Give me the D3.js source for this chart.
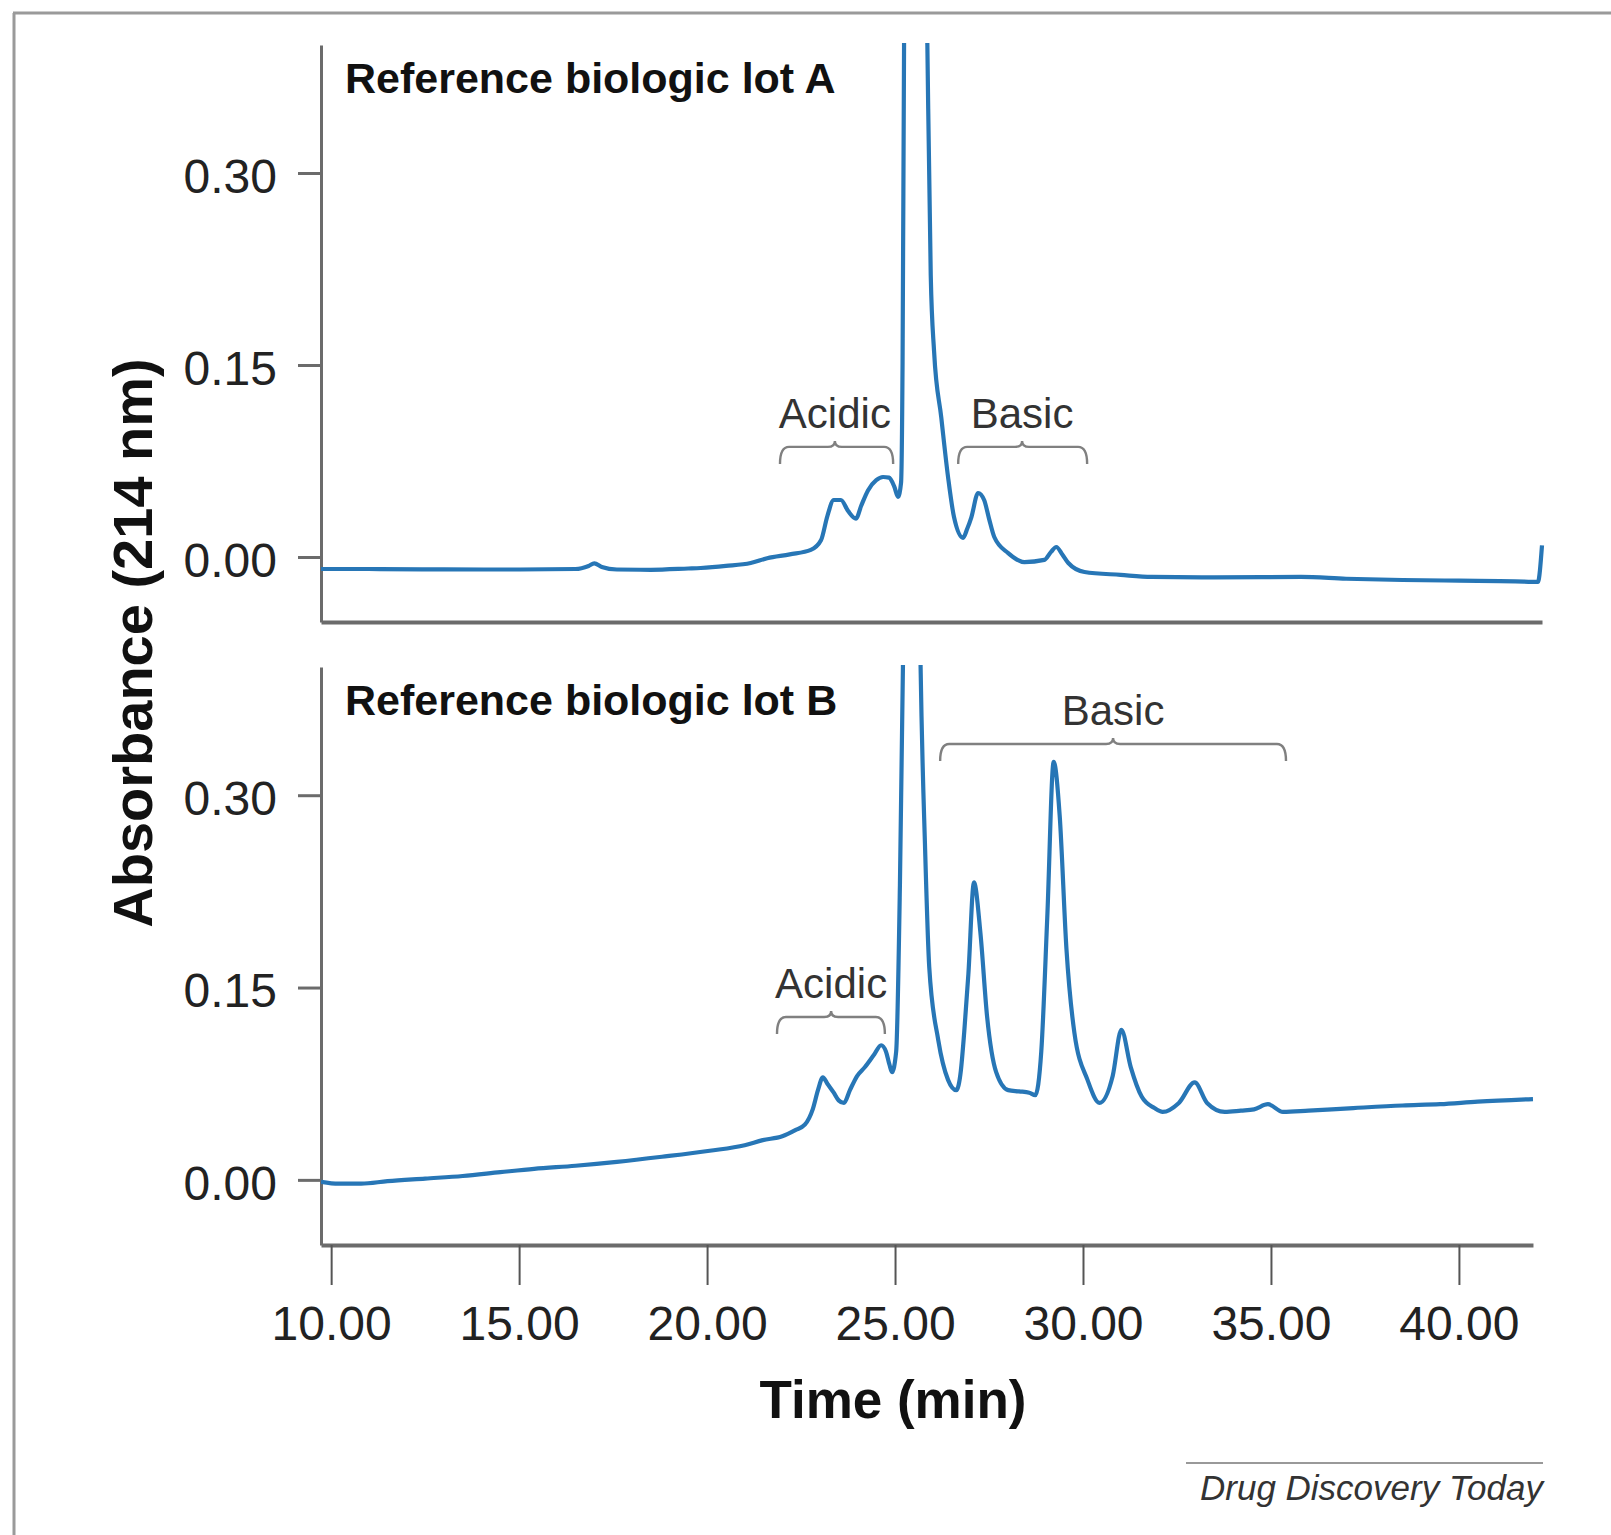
<!DOCTYPE html>
<html>
<head>
<meta charset="utf-8">
<script src="https://cdn.jsdelivr.net/npm/d3@7"></script>
<style>
  body { margin: 0; background: #fff; }
  svg { display: block; font-family: "Liberation Sans", Arial, Helvetica, sans-serif; }
</style>
</head>
<body>
<svg id="chart" width="1611" height="1535"></svg>
<script>
// retention time (min) and absorbance
const timeA = [9.73, 11.0, 13.0, 15.0, 16.5, 16.85, 17.0, 17.2, 17.6, 18.5, 19.5, 19.83, 20.5, 21.16, 21.6, 22.2,
  22.76, 23.03, 23.2, 23.37, 23.56, 23.75, 23.96, 24.1, 24.28, 24.5, 24.68, 24.84, 24.98, 25.08, 25.16, 25.2,
  25.24, 25.55, 25.86, 25.95, 26.04, 26.23, 26.41, 26.57, 26.81, 26.92, 27.03, 27.21, 27.37, 27.5, 27.64,
  28.01, 28.44, 28.97, 29.15, 29.29, 29.45, 29.61, 30.04, 31.0, 31.83, 33.5, 35.8, 37.0, 38.5, 40.0, 41.5,
  42.1, 42.21]
const absA = [-0.0094, -0.0094, -0.0097, -0.0098, -0.0094, -0.007, -0.005, -0.0078, -0.0098, -0.01, -0.009,
  -0.0086, -0.007, -0.0047, -0.001, 0.002, 0.0055, 0.013, 0.032, 0.0445, 0.0445, 0.036, 0.03, 0.04, 0.052,
  0.06, 0.0625, 0.062, 0.055, 0.047, 0.058, 0.15, 0.4, 1.2, 0.4, 0.22, 0.16, 0.109, 0.0625, 0.031, 0.015,
  0.022, 0.031, 0.05, 0.0445, 0.03, 0.0156, 0.003, -0.004, -0.0023, 0.004, 0.0078, 0.002, -0.0047, -0.0117,
  -0.014, -0.0156, -0.016, -0.0156, -0.017, -0.018, -0.0185, -0.019, -0.0195, 0.009]

const timeB = [9.73, 10.2, 10.8, 11.5, 12.5, 13.5, 14.5, 15.4, 16.5, 17.6, 18.8, 20.07, 21.0, 21.48, 22.0,
  22.36, 22.6, 22.81, 22.95, 23.08, 23.2, 23.37, 23.5, 23.64, 23.8, 23.99, 24.2, 24.45, 24.63, 24.76, 24.85,
  24.92, 25.03, 25.13, 25.21, 25.43, 25.68, 25.8, 25.91, 26.15, 26.41, 26.63, 26.75, 26.84, 26.95, 27.1,
  27.27, 27.45, 27.69, 28.01, 28.3, 28.57, 28.73, 28.89, 29.05, 29.22, 29.38, 29.56, 29.77, 30.12, 30.44,
  30.79, 31.02, 31.27, 31.56, 31.9, 32.12, 32.55, 32.97, 33.3, 33.77, 34.2, 34.55, 34.92, 35.32, 36.0, 37.19,
  38.5, 39.5, 40.5, 41.97]
const absB = [-0.0015, -0.003, -0.003, -0.001, 0.001, 0.003, 0.006, 0.0086, 0.011, 0.014, 0.018, 0.0227,
  0.027, 0.031, 0.034, 0.039, 0.043, 0.055, 0.07, 0.08, 0.075, 0.068, 0.062, 0.06, 0.07, 0.081, 0.088, 0.098,
  0.105, 0.1, 0.09, 0.084, 0.1, 0.23, 0.4, 1.2, 0.4, 0.258, 0.166, 0.109, 0.078, 0.07, 0.085, 0.115, 0.16,
  0.232, 0.193, 0.127, 0.084, 0.07, 0.069, 0.068, 0.066, 0.1, 0.205, 0.326, 0.284, 0.18, 0.115, 0.078, 0.06,
  0.081, 0.117, 0.088, 0.065, 0.056, 0.053, 0.06, 0.076, 0.06, 0.053, 0.054, 0.055, 0.059, 0.053, 0.054,
  0.056, 0.058, 0.059, 0.061, 0.063]

const xTicks = [10, 15, 20, 25, 30, 35, 40]
const yTicks = [0, 0.15, 0.30]
const panelTitles = ['Reference biologic lot A', 'Reference biologic lot B']

// bracket annotations: time span, notch time, bracket level (absorbance)
const bracketsA = [
  {label: 'Acidic', t0: 21.94, t1: 24.95, tm: 23.4, v: 0.086},
  {label: 'Basic', t0: 26.68, t1: 30.11, tm: 28.38, v: 0.086}
]
const bracketsB = [
  {label: 'Acidic', t0: 21.86, t1: 24.73, tm: 23.3, v: 0.127},
  {label: 'Basic', t0: 26.2, t1: 35.4, tm: 30.8, v: 0.34}
]

const svg = d3.select('#chart')
const blue = '#2776b6'
const axisGrey = '#6b6b6b'

// shared time scale
const x = d3.scaleLinear().domain([9.73, 42.21]).range([321, 1542])
const fmt = d3.format('.2f')

// frame (left + top edge of the figure box)
svg.append('line').attr('x1', 13).attr('y1', 13).attr('x2', 1611).attr('y2', 13)
  .attr('stroke', '#9a9a9a').attr('stroke-width', 3)
svg.append('line').attr('x1', 14).attr('y1', 13).attr('x2', 14).attr('y2', 1535)
  .attr('stroke', '#9a9a9a').attr('stroke-width', 3)

let drawPanel = (opts) => {
  let {times, values, top, bottom, title, brackets, xEnd, ticks, id} = opts
  let y = d3.scaleLinear().domain([-0.0508, 0.40]).range([bottom, top])
  let g = svg.append('g')

  g.append('clipPath').attr('id', 'clip' + id)
    .append('rect').attr('x', x(9.73)).attr('y', top - 2)
    .attr('width', x(xEnd) - x(9.73) + 4).attr('height', bottom - top)

  // y axis
  let yAxis = g.append('g').attr('transform', `translate(${x(9.73)},0)`)
    .call(d3.axisLeft(y).tickValues(yTicks).tickFormat(fmt).tickSize(23).tickPadding(21).tickSizeOuter(0))
  yAxis.select('.domain').attr('stroke', axisGrey).attr('stroke-width', 3)
  yAxis.selectAll('.tick line').attr('stroke', axisGrey).attr('stroke-width', 3)
  yAxis.selectAll('.tick text').attr('font-size', 48).attr('fill', '#222').attr('dy', '0.4em')
    .attr('font-family', '"Liberation Sans", Arial, sans-serif')

  // x axis
  let xs = x.copy().domain([9.73, xEnd]).range([x(9.73), x(xEnd)])
  let xAxis = g.append('g').attr('transform', `translate(0,${bottom})`)
    .call(d3.axisBottom(xs).tickValues(ticks ? xTicks : []).tickFormat(fmt)
      .tickSize(40).tickPadding(21).tickSizeOuter(0))
  xAxis.select('.domain').attr('stroke', axisGrey).attr('stroke-width', 4)
  xAxis.selectAll('.tick line').attr('stroke', '#555').attr('stroke-width', 2)
  xAxis.selectAll('.tick text').attr('font-size', 48).attr('fill', '#222')
    .attr('font-family', '"Liberation Sans", Arial, sans-serif')

  // trace
  let line = d3.line().x(d => x(d[0])).y(d => y(d[1])).curve(d3.curveMonotoneX)
  g.append('path')
    .datum(times.map((t, i) => [t, values[i]]))
    .attr('clip-path', `url(#clip${id})`)
    .attr('d', line)
    .attr('fill', 'none')
    .attr('stroke', blue)
    .attr('stroke-width', 4.2)
    .attr('stroke-linejoin', 'round')

  // panel title
  g.append('text').attr('x', x(9.73) + 24).attr('y', top + 48)
    .attr('font-size', 43).attr('font-weight', 'bold').attr('fill', '#111')
    .text(title)

  // brackets
  brackets.forEach(b => {
    let x0 = x(b.t0), x1 = x(b.t1), xm = x(b.tm), yb = y(b.v), h = 17
    let d = `M${x0},${yb + h} Q${x0},${yb} ${x0 + 9},${yb} L${xm - 7},${yb} ` +
      `Q${xm},${yb} ${xm},${yb - 6} Q${xm},${yb} ${xm + 7},${yb} L${x1 - 9},${yb} Q${x1},${yb} ${x1},${yb + h}`
    g.append('path').attr('d', d).attr('fill', 'none')
      .attr('stroke', '#808080').attr('stroke-width', 2.4)
    g.append('text').attr('x', xm).attr('y', yb - 19)
      .attr('text-anchor', 'middle').attr('font-size', 42).attr('fill', '#333')
      .text(b.label)
  })
}

drawPanel({times: timeA, values: absA, top: 45, bottom: 622, title: panelTitles[0],
  brackets: bracketsA, xEnd: 42.21, ticks: false, id: 'A'})
drawPanel({times: timeB, values: absB, top: 667, bottom: 1245, title: panelTitles[1],
  brackets: bracketsB, xEnd: 41.97, ticks: true, id: 'B'})

// axis titles
svg.append('text')
  .attr('transform', 'translate(152,643) rotate(-90)')
  .attr('text-anchor', 'middle').attr('font-size', 56).attr('font-weight', 'bold').attr('fill', '#111')
  .text('Absorbance (214 nm)')

svg.append('text').attr('x', 893).attr('y', 1418)
  .attr('text-anchor', 'middle').attr('font-size', 53).attr('font-weight', 'bold').attr('fill', '#111')
  .text('Time (min)')

// journal footer
svg.append('line').attr('x1', 1186).attr('x2', 1543).attr('y1', 1463).attr('y2', 1463)
  .attr('stroke', '#999').attr('stroke-width', 2)
svg.append('text').attr('x', 1543).attr('y', 1500)
  .attr('text-anchor', 'end').attr('font-size', 35).attr('font-style', 'italic').attr('fill', '#333')
  .text('Drug Discovery Today')
</script>
</body>
</html>
